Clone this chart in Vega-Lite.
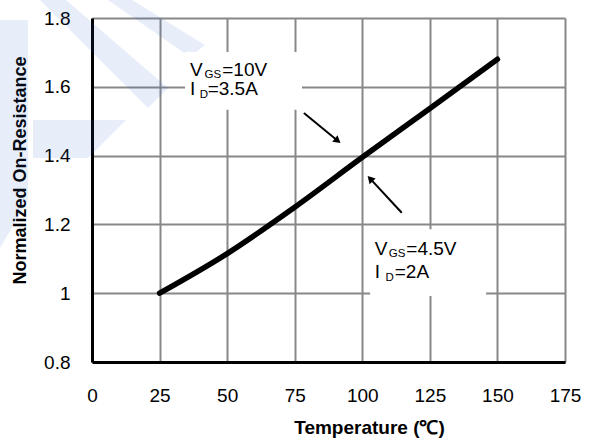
{
  "$schema": "https://vega.github.io/schema/vega-lite/v6.json",
  "width": 473,
  "height": 344,
  "autosize": {"type": "none"},
  "padding": {"left": 92, "top": 18, "right": 25, "bottom": 79},
  "background": "white",
  "config": {
    "view": {"stroke": null},
    "font": "Liberation Sans",
    "axis": {
      "grid": true,
      "gridColor": "#888888",
      "gridWidth": 2,
      "domainColor": "#000000",
      "domainWidth": 3,
      "ticks": false,
      "tickSize": 0,
      "labelFont": "Liberation Sans",
      "labelFontSize": 19,
      "labelColor": "#000000",
      "labelFlush": false,
      "labelOverlap": false,
      "titleFont": "Liberation Sans",
      "titleFontWeight": "bold",
      "titleColor": "#000000"
    }
  },
  "datasets": {
    "curve": [
      {"t": 25, "r": 1.0},
      {"t": 50, "r": 1.115},
      {"t": 75, "r": 1.25},
      {"t": 100, "r": 1.395},
      {"t": 125, "r": 1.537},
      {"t": 150, "r": 1.68}
    ],
    "mark": [
      {"poly": "a", "ord": 1, "t": -19.24, "r": 1.8523},
      {"poly": "a", "ord": 2, "t": -9.62, "r": 1.8523},
      {"poly": "a", "ord": 3, "t": 28.12, "r": 1.5965},
      {"poly": "a", "ord": 4, "t": 20.72, "r": 1.5384},
      {"poly": "b", "ord": 1, "t": 5.92, "r": 1.8523},
      {"poly": "b", "ord": 2, "t": 14.8, "r": 1.8523},
      {"poly": "b", "ord": 3, "t": 41.81, "r": 1.7215},
      {"poly": "b", "ord": 4, "t": 36.26, "r": 1.6866},
      {"poly": "c", "ord": 1, "t": -34.04, "r": 1.7942},
      {"poly": "c", "ord": 2, "t": -23.68, "r": 1.7942},
      {"poly": "c", "ord": 3, "t": -23.68, "r": 1.2709},
      {"poly": "c", "ord": 4, "t": -34.04, "r": 1.1314},
      {"poly": "d", "ord": 1, "t": -21.83, "r": 1.5035},
      {"poly": "d", "ord": 2, "t": 12.58, "r": 1.5035},
      {"poly": "d", "ord": 3, "t": -1.48, "r": 1.393},
      {"poly": "d", "ord": 4, "t": -21.83, "r": 1.393}
    ],
    "boxes": [
      {"t": 34.4, "t2": 77.7, "r": 1.533, "r2": 1.701},
      {"t": 102.9, "t2": 145.8, "r": 0.992, "r2": 1.186}
    ],
    "arrows": [
      {"t": 78.4, "r": 1.5238, "t2": 90.9, "r2": 1.443},
      {"t": 114.6, "r": 1.234, "t2": 102.9, "r2": 1.333}
    ],
    "head1": [{"t": 90.9, "r": 1.443}],
    "head2": [{"t": 102.9, "r": 1.333}],
    "big": [
      {"t": 36.3, "r": 1.6314, "label": "V"},
      {"t": 48.2, "r": 1.6314, "label": "=10V"},
      {"t": 36.3, "r": 1.5762, "label": "I"},
      {"t": 42.8, "r": 1.5762, "label": "=3.5A"},
      {"t": 104.6, "r": 1.111, "label": "V"},
      {"t": 116.3, "r": 1.111, "label": "=4.5V"},
      {"t": 104.6, "r": 1.0442, "label": "I"},
      {"t": 112.0, "r": 1.0442, "label": "=2A"}
    ],
    "small": [
      {"t": 41.6, "r": 1.627, "label": "GS"},
      {"t": 39.9, "r": 1.5674, "label": "D"},
      {"t": 109.8, "r": 1.1066, "label": "GS"},
      {"t": 108.6, "r": 1.0355, "label": "D"}
    ]
  },
  "encoding": {
    "x": {
      "field": "t",
      "type": "quantitative",
      "scale": {"domain": [0, 175], "nice": false, "zero": false},
      "axis": {
        "values": [0, 25, 50, 75, 100, 125, 150, 175],
        "labelPadding": 24,
        "title": "Temperature (℃)",
        "titleFontSize": 19,
        "titleX": 277,
        "titleY": 71,
        "titleAlign": "center",
        "titleBaseline": "alphabetic",
        "titleAnchor": null
      }
    },
    "y": {
      "field": "r",
      "type": "quantitative",
      "scale": {"domain": [0.8, 1.8], "nice": false, "zero": false},
      "axis": {
        "values": [0.8, 1, 1.2, 1.4, 1.6, 1.8],
        "format": "~g",
        "labelPadding": 22,
        "title": "Normalized On-Resistance",
        "titleFontSize": 18,
        "titleAngle": 270,
        "titleX": -67,
        "titleY": 152,
        "titleAlign": "center",
        "titleBaseline": "alphabetic"
      }
    }
  },
  "layer": [
    {
      "data": {"name": "mark"},
      "mark": {"type": "line", "interpolate": "linear-closed", "fill": "#2f62c8", "fillOpacity": 0.11, "strokeWidth": 0, "stroke": null, "clip": false},
      "encoding": {
        "detail": {"field": "poly"},
        "order": {"field": "ord", "type": "quantitative"}
      }
    },
    {
      "data": {"name": "boxes"},
      "mark": {"type": "rect", "fill": "white"},
      "encoding": {
        "x2": {"field": "t2"},
        "y2": {"field": "r2"}
      }
    },
    {
      "data": {"name": "curve"},
      "mark": {"type": "line", "color": "black", "strokeWidth": 5.5, "interpolate": "monotone", "strokeCap": "round"}
    },
    {
      "data": {"name": "arrows"},
      "mark": {"type": "rule", "color": "black", "strokeWidth": 2},
      "encoding": {
        "x2": {"field": "t2"},
        "y2": {"field": "r2"}
      }
    },
    {
      "data": {"name": "head1"},
      "mark": {"type": "point", "shape": "triangle-right", "filled": true, "color": "black", "opacity": 1, "size": 70, "angle": 39.4}
    },
    {
      "data": {"name": "head2"},
      "mark": {"type": "point", "shape": "triangle-right", "filled": true, "color": "black", "opacity": 1, "size": 70, "angle": 227}
    },
    {
      "data": {"name": "big"},
      "mark": {"type": "text", "align": "left", "baseline": "alphabetic", "fontSize": 19, "font": "Liberation Sans", "color": "black"},
      "encoding": {"text": {"field": "label"}}
    },
    {
      "data": {"name": "small"},
      "mark": {"type": "text", "align": "left", "baseline": "alphabetic", "fontSize": 11.5, "font": "Liberation Sans", "color": "black"},
      "encoding": {"text": {"field": "label"}}
    }
  ]
}
